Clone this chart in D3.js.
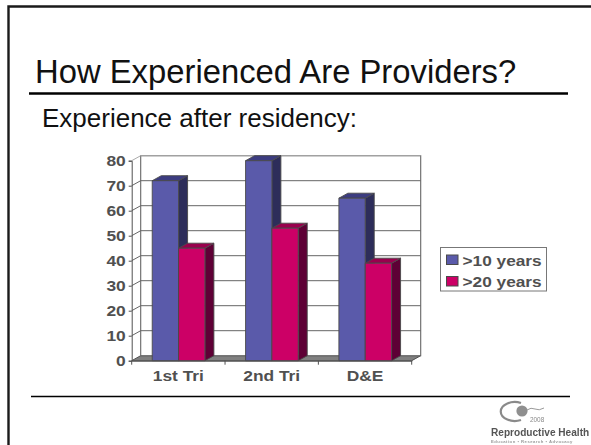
<!DOCTYPE html>
<html>
<head>
<meta charset="utf-8">
<script src="https://cdn.jsdelivr.net/npm/d3@7"></script>
<style>
html, body { margin: 0; padding: 0; background: #fff; overflow: hidden; }
text { font-family: "Liberation Sans", Arial, sans-serif; }
</style>
</head>
<body>
<div id="figure"></div>
<script>
var categories = ["1st Tri", "2nd Tri", "D&E"];
var over10 = [72, 80, 65];
var over20 = [45, 53, 39];
var seriesNames = [">10 years", ">20 years"];
var yTicks = [0, 10, 20, 30, 40, 50, 60, 70, 80];

const ink = "#505050";
const depth = { x: 9, y: -5 };
const colors = [
    { front: "#5a5aaa", side: "#2d2d5a", top: "#3c3c80" },
    { front: "#cc0066", side: "#5e0035", top: "#99004d" }
];

// the source picture is stretched sideways, so widen the text to match
function stretch(sel, k) {
    sel.each(function () {
        const w = this.getComputedTextLength();
        d3.select(this).attr("textLength", w * k).attr("lengthAdjust", "spacingAndGlyphs");
    });
}

const svg = d3.select("#figure")
    .append("svg")
    .attr("width", 591)
    .attr("height", 445)
    .style("display", "block");

const defs = svg.append("defs");
defs.append("filter").attr("id", "soft")
    .append("feGaussianBlur").attr("stdDeviation", 0.45);

// slide frame
svg.append("path")
    .attr("d", "M8.5,445V6.5H591")
    .attr("fill", "none")
    .attr("stroke", "#1a1a1a")
    .attr("stroke-width", 2.4);

svg.append("text")
    .attr("x", 35).attr("y", 83)
    .attr("font-size", 32.8)
    .attr("fill", "#111")
    .text("How Experienced Are Providers?");
svg.append("line")
    .attr("x1", 29).attr("x2", 568).attr("y1", 93.5).attr("y2", 93.5)
    .attr("stroke", "#000").attr("stroke-width", 2.4);
svg.append("text")
    .attr("x", 42).attr("y", 127)
    .attr("font-size", 26)
    .attr("fill", "#111")
    .text("Experience after residency:");
svg.append("line")
    .attr("x1", 31).attr("x2", 570).attr("y1", 396.5).attr("y2", 396.5)
    .attr("stroke", "#000").attr("stroke-width", 1.4);

// chart scales
const x = d3.scaleBand().domain(categories).range([131.7, 411.7]).paddingInner(0.44).paddingOuter(0.22);
const y = d3.scaleLinear().domain([0, 80]).range([360.7, 160.7]);
const x0 = x.range()[0], x1 = x.range()[1];

// floor
svg.append("path")
    .attr("d", `M${x0},${y(0)}L${x0 + depth.x},${y(0) + depth.y}H${x1 + depth.x}L${x1},${y(0)}Z`)
    .attr("fill", "#808080")
    .attr("stroke", ink);

// back wall and grid
svg.append("rect")
    .attr("x", x0 + depth.x).attr("y", y(80) + depth.y)
    .attr("width", x1 - x0).attr("height", y(0) - y(80))
    .attr("fill", "#fff")
    .attr("stroke", "#666").attr("stroke-width", 1.1);

svg.selectAll(".grid")
    .data(yTicks.slice(1))
    .join("path")
    .attr("class", "grid")
    .attr("d", d => `M${x0},${y(d)}L${x0 + depth.x},${y(d) + depth.y}H${x1 + depth.x}`)
    .attr("fill", "none")
    .attr("stroke", d => d == 80 ? "#aaa" : "#666")
    .attr("stroke-width", 1);

// bars, drawn as front/side/top faces
const barWidth = x.bandwidth() / 2 + 0.2;
const bars = [];
categories.forEach(function (c, i) {
    bars.push({ cat: c, s: 0, v: over10[i] });
    bars.push({ cat: c, s: 1, v: over20[i] });
});
const bar = svg.selectAll(".bar")
    .data(bars)
    .join("g")
    .attr("class", "bar")
    .attr("stroke", "#4a4a4a")
    .attr("stroke-width", 0.9)
    .attr("stroke-linejoin", "round");

bar.append("path")
    .attr("fill", d => colors[d.s].side)
    .attr("d", function (d) {
        const r = x(d.cat) + (d.s + 1) * barWidth;
        return `M${r},${y(d.v)}l${depth.x},${depth.y}V${y(0) + depth.y}L${r},${y(0)}Z`;
    });
bar.append("path")
    .attr("fill", d => colors[d.s].top)
    .attr("d", function (d) {
        const l = x(d.cat) + d.s * barWidth;
        return `M${l},${y(d.v)}l${depth.x},${depth.y}h${barWidth}l${-depth.x},${-depth.y}Z`;
    });
bar.append("rect")
    .attr("fill", d => colors[d.s].front)
    .attr("x", d => x(d.cat) + d.s * barWidth)
    .attr("y", d => y(d.v))
    .attr("width", barWidth)
    .attr("height", d => y(0) - y(d.v));

// axes
const yAxis = svg.append("g")
    .attr("transform", `translate(${x0},0)`)
    .call(d3.axisLeft(y).tickValues(yTicks).tickSize(3).tickPadding(3));
const xAxis = svg.append("g")
    .attr("transform", `translate(0,${y(0)})`)
    .call(d3.axisBottom(x).tickSize(0).tickPadding(10));
[yAxis, xAxis].forEach(function (a) {
    a.selectAll("path").attr("stroke", ink).attr("stroke-width", 1);
    a.selectAll("line").attr("stroke", ink);
    a.selectAll("text")
        .attr("fill", ink)
        .attr("font-family", "Liberation Sans, Arial, sans-serif")
        .attr("font-weight", "bold")
        .attr("font-size", 14)
        .call(stretch, 1.24);
});
svg.selectAll(".xtick")
    .data(d3.range(categories.length + 1))
    .join("line")
    .attr("class", "xtick")
    .attr("x1", d => x0 + d * x.step()).attr("x2", d => x0 + d * x.step())
    .attr("y1", y(0)).attr("y2", y(0) + 4)
    .attr("stroke", ink);

// legend
const legend = svg.append("g");
legend.append("rect")
    .attr("x", 440.5).attr("y", 247.5).attr("width", 106).attr("height", 43.5)
    .attr("fill", "#fff").attr("stroke", "#777").attr("stroke-width", 1);
const item = legend.selectAll(".item")
    .data(seriesNames)
    .join("g")
    .attr("class", "item")
    .attr("transform", (d, i) => `translate(446.5,${255 + i * 21.5})`);
item.append("rect")
    .attr("width", 11.5).attr("height", 9.5)
    .attr("fill", (d, i) => colors[i].front)
    .attr("stroke", "#4a4a4a");
item.append("text")
    .attr("x", 16).attr("y", 10.5)
    .attr("font-size", 15).attr("font-weight", "bold")
    .attr("fill", ink)
    .text(d => d)
    .call(stretch, 1.15);

// logo, blurry in the source
const logo = svg.append("g").attr("filter", "url(#soft)");
logo.append("path")
    .attr("d", "M521,403A14,9.5 0 1 0 521,420")
    .attr("fill", "none").attr("stroke", "#8a8a8a").attr("stroke-width", 2.2);
logo.append("circle")
    .attr("cx", 522).attr("cy", 411).attr("r", 5.6).attr("fill", "#8f8f8f");
logo.append("path")
    .attr("d", "M527,410q4,-3 8,-1t9,-1")
    .attr("fill", "none").attr("stroke", "#999").attr("stroke-width", 1);
logo.append("text")
    .attr("x", 530).attr("y", 422).attr("font-size", 6.4).attr("fill", "#888").text("2008");
logo.append("text")
    .attr("x", 491).attr("y", 435.5).attr("font-size", 10.1).attr("font-weight", "bold")
    .attr("fill", "#555").text("Reproductive Health");
logo.append("text")
    .attr("x", 491).attr("y", 443).attr("font-size", 4.2).attr("font-weight", "bold")
    .attr("letter-spacing", 0.5)
    .attr("fill", "#999").text("Education \u2022 Research \u2022 Advocacy");
</script>
</body>
</html>
